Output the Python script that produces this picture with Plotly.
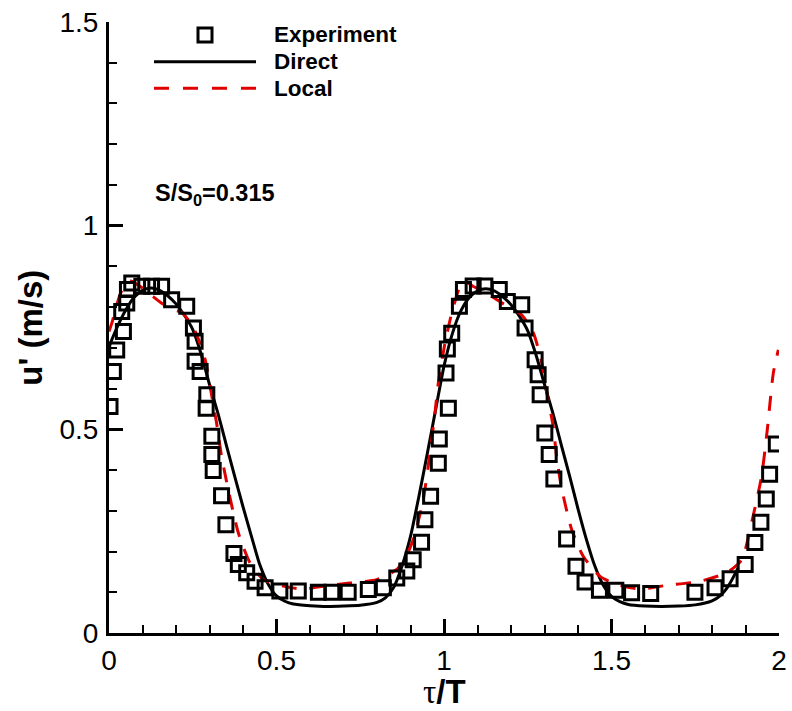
import plotly.graph_objects as go

# Experimental fluctuating velocity u' versus phase tau/T
exp_tau = [0.003, 0.013, 0.023, 0.043, 0.038, 0.053, 0.055, 0.068, 0.098, 0.127,
           0.157, 0.187, 0.232, 0.252, 0.257, 0.257, 0.272, 0.292, 0.290, 0.307,
           0.307, 0.311, 0.336, 0.349, 0.373, 0.386, 0.411, 0.436, 0.466, 0.510,
           0.565, 0.625, 0.665, 0.714, 0.774, 0.819, 0.859, 0.889, 0.908, 0.933,
           0.943, 0.960, 0.983, 0.986, 1.013, 1.006, 1.010, 1.023, 1.046, 1.058,
           1.087, 1.122, 1.165, 1.189, 1.232, 1.242, 1.272, 1.281, 1.287, 1.301,
           1.314, 1.328, 1.366, 1.394, 1.421, 1.464, 1.513, 1.560, 1.617, 1.749,
           1.809, 1.854, 1.899, 1.928, 1.946, 1.962, 1.972, 1.992]
exp_u = [0.556, 0.642, 0.695, 0.740, 0.789, 0.810, 0.843, 0.859, 0.851, 0.851,
         0.851, 0.818, 0.802, 0.749, 0.716, 0.667, 0.642, 0.585, 0.552, 0.483,
         0.438, 0.399, 0.337, 0.266, 0.195, 0.168, 0.148, 0.127, 0.111, 0.103,
         0.103, 0.100, 0.100, 0.100, 0.107, 0.111, 0.135, 0.152, 0.180, 0.223,
         0.278, 0.336, 0.417, 0.476, 0.552, 0.638, 0.697, 0.736, 0.802, 0.843,
         0.852, 0.852, 0.843, 0.814, 0.806, 0.749, 0.671, 0.634, 0.585, 0.491,
         0.438, 0.378, 0.231, 0.164, 0.125, 0.105, 0.105, 0.099, 0.097, 0.100,
         0.111, 0.133, 0.168, 0.222, 0.272, 0.329, 0.390, 0.464]

# Direct model
direct_tau = [0.000, 0.025, 0.050, 0.075, 0.100, 0.125, 0.150, 0.175, 0.200, 0.225,
              0.250, 0.275, 0.300, 0.325, 0.350, 0.375, 0.400, 0.425, 0.450, 0.475,
              0.500, 0.525, 0.550, 0.600, 0.650, 0.700, 0.750, 0.800, 0.825, 0.850,
              0.875, 0.900, 0.925, 0.950, 0.975, 1.000, 1.025, 1.050, 1.075, 1.100,
              1.125, 1.150, 1.175, 1.200, 1.225, 1.250, 1.275, 1.300, 1.325, 1.350,
              1.375, 1.400, 1.425, 1.450, 1.475, 1.500, 1.525, 1.550, 1.600, 1.650,
              1.700, 1.750, 1.800, 1.825, 1.850, 1.878]
direct_u = [0.703, 0.752, 0.793, 0.824, 0.841, 0.847, 0.842, 0.828, 0.808, 0.780,
            0.745, 0.685, 0.610, 0.540, 0.462, 0.385, 0.310, 0.238, 0.168, 0.120,
            0.091, 0.078, 0.071, 0.067, 0.065, 0.066, 0.068, 0.075, 0.086, 0.112,
            0.165, 0.237, 0.335, 0.440, 0.548, 0.655, 0.735, 0.790, 0.823, 0.840,
            0.845, 0.840, 0.826, 0.806, 0.778, 0.742, 0.682, 0.610, 0.540, 0.462,
            0.385, 0.305, 0.230, 0.165, 0.118, 0.090, 0.077, 0.070, 0.066, 0.065,
            0.066, 0.069, 0.079, 0.092, 0.117, 0.160]

# Local model
local_tau = [0.000, 0.010, 0.020, 0.035, 0.050, 0.065, 0.080, 0.100, 0.130, 0.160,
             0.190, 0.215, 0.240, 0.262, 0.287, 0.307, 0.321, 0.336, 0.356, 0.386,
             0.421, 0.461, 0.520, 0.580, 0.640, 0.719, 0.799, 0.859, 0.885, 0.908,
             0.938, 0.958, 0.973, 0.983, 1.003, 1.023, 1.048, 1.063, 1.085, 1.127,
             1.170, 1.207, 1.232, 1.267, 1.292, 1.307, 1.326, 1.336, 1.350, 1.381,
             1.416, 1.466, 1.516, 1.585, 1.665, 1.764, 1.844, 1.889, 1.918, 1.948,
             1.965, 1.983, 1.998]
local_u = [0.740, 0.765, 0.797, 0.835, 0.858, 0.864, 0.858, 0.847, 0.827, 0.808,
           0.794, 0.788, 0.765, 0.732, 0.671, 0.581, 0.516, 0.434, 0.352, 0.246,
           0.172, 0.131, 0.115, 0.108, 0.115, 0.123, 0.131, 0.156, 0.185, 0.229,
           0.327, 0.442, 0.540, 0.614, 0.712, 0.785, 0.851, 0.863, 0.852, 0.834,
           0.812, 0.793, 0.781, 0.736, 0.663, 0.589, 0.507, 0.434, 0.360, 0.254,
           0.188, 0.139, 0.119, 0.108, 0.117, 0.127, 0.148, 0.180, 0.270, 0.385,
           0.499, 0.638, 0.695]

x_ticks = [0, 0.5, 1, 1.5, 2]
x_tick_labels = ["0", "0.5", "1", "1.5", "2"]
y_ticks = [0, 0.5, 1, 1.5]
y_tick_labels = ["0", "0.5", "1", "1.5"]

RED = "#e00000"
FONT = "Liberation Sans"

# plot-area geometry in pixels (used to place legend items in paper units)
W, H = 792, 711
ML, MR, MT, MB = 109, 13, 22, 77.5
PW, PH = W - ML - MR, H - MT - MB


def px(x):
    return (x - ML) / PW


def py(y):
    return (H - MB - y) / PH


fig = go.Figure()

fig.add_trace(go.Scatter(
    x=direct_tau, y=direct_u, mode="lines", name="Direct",
    line=dict(color="black", width=3, shape="spline", smoothing=0.6),
    showlegend=False,
))
fig.add_trace(go.Scatter(
    x=local_tau, y=local_u, mode="lines", name="Local",
    line=dict(color=RED, width=3, dash="15px,13px", shape="spline", smoothing=0.6),
    showlegend=False,
))
fig.add_trace(go.Scatter(
    x=exp_tau, y=exp_u, mode="markers", name="Experiment",
    marker=dict(symbol="square-open", size=14, color="black",
                line=dict(color="black", width=3)),
    showlegend=False,
))

axis_common = dict(
    showline=True, linecolor="black", linewidth=3, mirror=False,
    showgrid=False, zeroline=False, automargin=False,
    ticks="inside", ticklen=14, tickwidth=3, tickcolor="black",
    tickfont=dict(family=FONT, size=28, color="black"),
)

fig.update_xaxes(
    range=[0, 2], tickvals=x_ticks, ticktext=x_tick_labels,
    minor=dict(ticks="inside", ticklen=8, tickwidth=1.5, tickcolor="black", dtick=0.1),
    ticklabelstandoff=0,
    **axis_common,
)
fig.update_yaxes(
    range=[0, 1.5], tickvals=y_ticks, ticktext=y_tick_labels,
    minor=dict(ticks="inside", ticklen=8, tickwidth=1.5, tickcolor="black", dtick=0.1),
    ticklabelstandoff=2,
    **axis_common,
)

# legend samples
shapes = [
    dict(type="rect", xref="paper", yref="paper",
         x0=px(198), x1=px(212), y0=py(42), y1=py(28),
         line=dict(color="black", width=3), fillcolor="rgba(0,0,0,0)"),
    dict(type="line", xref="paper", yref="paper",
         x0=px(154), x1=px(256), y0=py(61.7), y1=py(61.7),
         line=dict(color="black", width=3)),
    dict(type="line", xref="paper", yref="paper",
         x0=px(154), x1=px(256), y0=py(88.3), y1=py(88.3),
         line=dict(color=RED, width=3, dash="15px,14px")),
]

legend_font = dict(family=FONT, size=22.5, color="black", weight="bold")
annotations = [
    dict(text="Experiment", x=px(272), y=py(35), xanchor="left", yanchor="middle"),
    dict(text="Direct", x=px(272), y=py(61.7), xanchor="left", yanchor="middle"),
    dict(text="Local", x=px(272), y=py(88.3), xanchor="left", yanchor="middle"),
]
for a in annotations:
    a.update(xref="paper", yref="paper", showarrow=False, font=legend_font)

annotations.append(dict(
    text="S/S<sub>0</sub>=0.315", x=px(153), y=py(195), xref="paper", yref="paper",
    xanchor="left", yanchor="middle", showarrow=False,
    font=dict(family=FONT, size=23.5, color="black", weight="bold"),
))
annotations.append(dict(
    text="u' (m/s)", x=px(31), y=py(328), xref="paper", yref="paper",
    xanchor="center", yanchor="middle", textangle=-90, showarrow=False,
    font=dict(family=FONT, size=33, color="black", weight="bold"),
))
annotations.append(dict(
    text="<span style='font-family:Liberation Serif;font-weight:normal'>τ</span>/T",
    x=px(444), y=py(692), xref="paper", yref="paper",
    xanchor="center", yanchor="middle", showarrow=False,
    font=dict(family=FONT, size=33, color="black", weight="bold"),
))

fig.update_layout(
    width=W, height=H,
    margin=dict(l=ML, r=MR, t=MT, b=MB, autoexpand=False),
    paper_bgcolor="white", plot_bgcolor="white",
    shapes=shapes, annotations=annotations,
    showlegend=False,
)

fig.write_html("out.html")
